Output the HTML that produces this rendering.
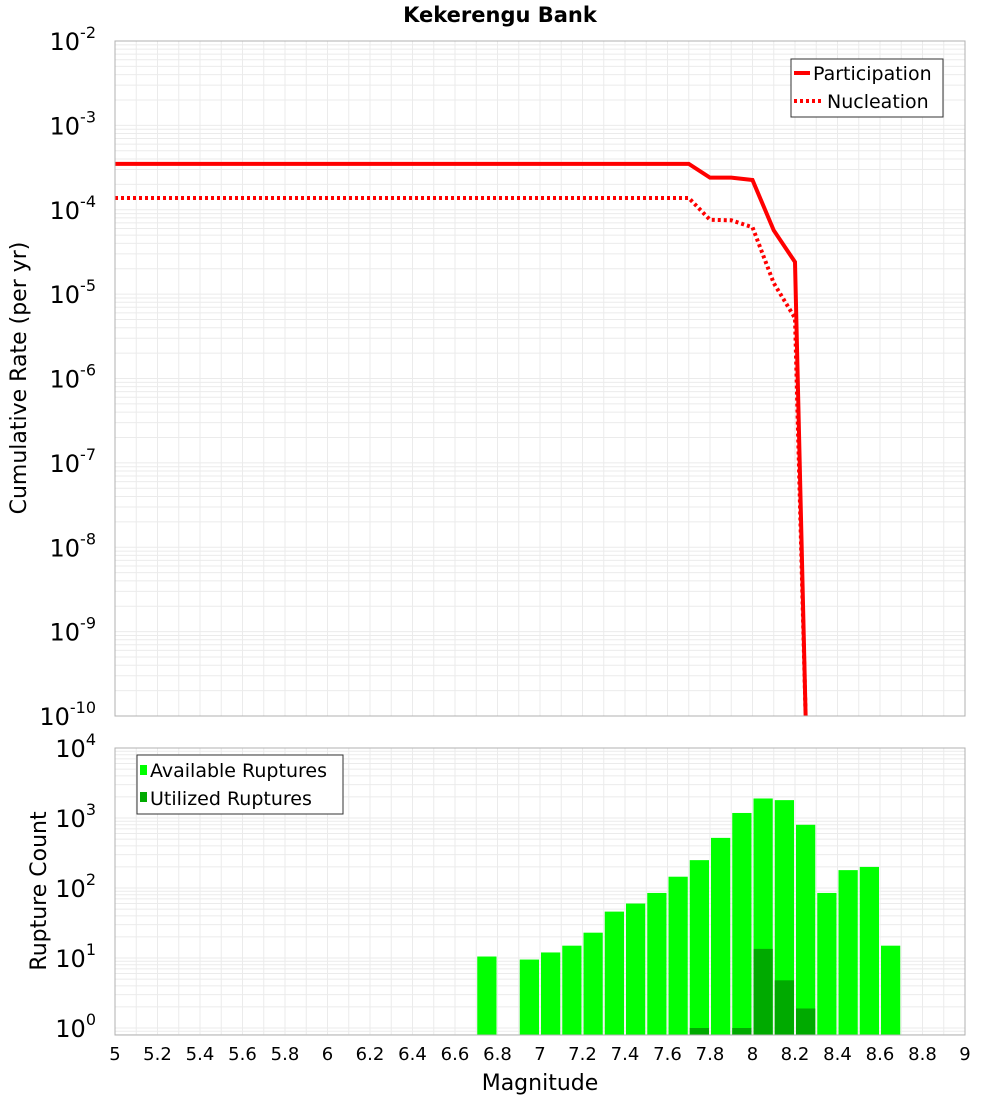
<!DOCTYPE html>
<html><head><meta charset="utf-8"><style>
body{margin:0;background:#fff;}
svg text{font-family:"DejaVu Sans","Liberation Sans",sans-serif;}
</style></head><body>
<svg id="chart" width="1000" height="1100" xmlns="http://www.w3.org/2000/svg">
<text x="500" y="22" text-anchor="middle" font-size="21" font-weight="bold">Kekerengu Bank</text>
<text transform="translate(26,378) rotate(-90)" text-anchor="middle" font-size="22">Cumulative Rate (per yr)</text>
<text transform="translate(46,891) rotate(-90)" text-anchor="middle" font-size="22">Rupture Count</text>
<text x="540" y="1090" text-anchor="middle" font-size="22">Magnitude</text>
<g id="g"></g>
</svg>
<script>
const rateMags=[5.0,7.7,7.8,7.9,8.0,8.1,8.2,8.25];
const participation=[3.5e-4,3.5e-4,2.4e-4,2.4e-4,2.25e-4,5.7e-5,2.4e-5,1e-10];
const nucleation=[1.38e-4,1.38e-4,7.6e-5,7.5e-5,6.2e-5,1.35e-5,5.2e-6,1e-10];
const binMags=[6.75,6.95,7.05,7.15,7.25,7.35,7.45,7.55,7.65,7.75,7.85,7.95,8.05,8.15,8.25,8.35,8.45,8.55,8.65];
const available=[10.5,9.5,12,15,23,46,60,85,145,250,520,1180,1900,1800,800,85,180,200,15];
const utilMags=[7.75,7.95,8.05,8.15,8.25];
const utilized=[1,1,13.5,4.8,1.9];
const xTicks=[5,5.2,5.4,5.6,5.8,6,6.2,6.4,6.6,6.8,7,7.2,7.4,7.6,7.8,8,8.2,8.4,8.6,8.8,9];
const topExps=[-2,-3,-4,-5,-6,-7,-8,-9,-10];
const botExps=[4,3,2,1,0];

const NS="http://www.w3.org/2000/svg";
const g=document.getElementById('g');
function el(t,a,p){const e=document.createElementNS(NS,t);for(const k in a)e.setAttribute(k,a[k]);(p||g).appendChild(e);return e;}
const L=115,R=965;
const xS=m=>L+(m-5)*(R-L)/4;
const T1=41,B1=716;
const yTop=v=>T1+(-2-Math.log10(v))*(B1-T1)/8;
const T2=748,B2=1035,dec2=70;
const yBot=v=>T2+(4-Math.log10(v))*dec2;

// panels
for(const [t,b,ys,lo,hi] of [[T1,B1,yTop,-10,-2],[T2,B2,yBot,-1,4]]){
  el('rect',{x:L,y:t,width:R-L,height:b-t,fill:'#fff'});
  for(let m=5;m<=9.001;m+=0.1){const x=xS(m);const ln=el('line',{x1:x,x2:x,y1:t,y2:b,stroke:'#ebebeb','stroke-width':1});}
  for(let e=lo;e<hi;e++)for(let k=1;k<10;k++){const y=ys(k*Math.pow(10,e));if(y<t||y>b)continue;const ln=el('line',{x1:L,x2:R,y1:y,y2:y,stroke:'#ebebeb','stroke-width':1});}
}

// top lines
function path(vals){return rateMags.map((m,i)=>(i?'L':'M')+xS(m)+','+Math.min(yTop(vals[i]),B1+5)).join(' ');}
const clip=el('clipPath',{id:'c1'});el('rect',{x:L,y:T1,width:R-L,height:B1-T1},clip);
const p1=el('path',{d:path(participation),fill:'none',stroke:'#ff0000','stroke-width':4,'clip-path':'url(#c1)'});

const p2=el('path',{d:path(nucleation),fill:'none',stroke:'#ff0000','stroke-width':4,'stroke-dasharray':'3 3','clip-path':'url(#c1)'});


// bars
const bw=(R-L)/40;
binMags.forEach((m,i)=>{const y=yBot(available[i]);const r=el('rect',{x:xS(m)-bw/2+1,y:y,width:bw-2,height:B2-y,fill:'#00ff00'});
});
utilMags.forEach((m,i)=>{const y=yBot(utilized[i]);const r=el('rect',{x:xS(m)-bw/2+1,y:y,width:bw-2,height:B2-y,fill:'#00aa00'});
});

// frames
el('rect',{x:L,y:T1,width:R-L,height:B1-T1,fill:'none',stroke:'#b0b0b0'});
el('rect',{x:L,y:T2,width:R-L,height:B2-T2,fill:'none',stroke:'#b0b0b0'});

// tick labels
function expLabel(x,y,e,name){const t=el('text',{x:x,y:y,'text-anchor':'end','font-size':24});
 t.textContent='10';const s=el('tspan',{dy:-12,'font-size':16},t);s.textContent=String(e);}
topExps.forEach(e=>expLabel(96,yTop(Math.pow(10,e))+9,e,'y-tick-top'));
botExps.forEach(e=>expLabel(96,yBot(Math.pow(10,e))+9,e,'y-tick-bottom'));
xTicks.forEach(m=>{const t=el('text',{x:xS(m),y:1060,'text-anchor':'middle','font-size':18});t.textContent=String(m);});

// legends
const lg=el('g',{});
el('rect',{x:791,y:59,width:152,height:58,fill:'#fff',stroke:'#333'},lg);
el('line',{x1:794,x2:810,y1:73,y2:73,stroke:'#f00','stroke-width':4},lg);
el('line',{x1:794,x2:822,y1:101,y2:101,stroke:'#f00','stroke-width':4,'stroke-dasharray':'3 3'},lg);
let t=el('text',{x:813,y:80,'font-size':19},lg);t.textContent='Participation';
t=el('text',{x:827,y:108,'font-size':19},lg);t.textContent='Nucleation';
const lg2=el('g',{});
el('rect',{x:137,y:755,width:206,height:59,fill:'#fff',stroke:'#333'},lg2);
el('rect',{x:140,y:765,width:7,height:10,fill:'#00ff00'},lg2);
el('rect',{x:140,y:792,width:7,height:10,fill:'#00aa00'},lg2);
t=el('text',{x:150,y:777,'font-size':19},lg2);t.textContent='Available Ruptures';
t=el('text',{x:150,y:805,'font-size':19},lg2);t.textContent='Utilized Ruptures';
</script>
</body></html>
